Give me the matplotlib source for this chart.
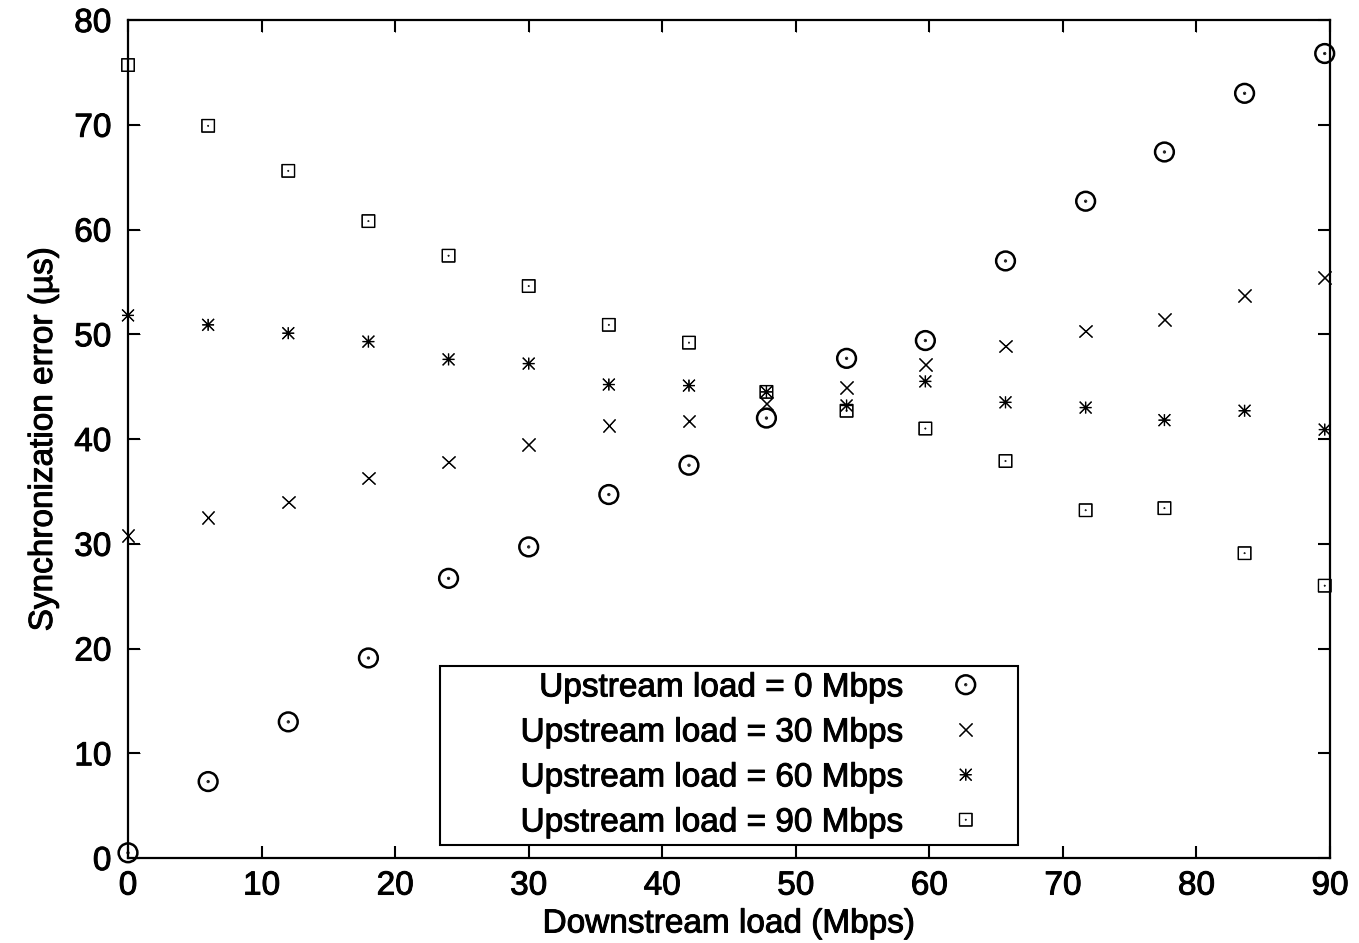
import numpy as np
import matplotlib.pyplot as plt
import matplotlib.patheffects as pe
from matplotlib.path import Path
from matplotlib.transforms import Affine2D

plt.rcParams['font.family'] = ['Liberation Sans', 'DejaVu Sans']
plt.rcParams['path.effects'] = [pe.withStroke(linewidth=0.7, foreground='black')]

# downstream load (Mbps)
x = [0, 6, 12, 18, 24, 30, 36, 42, 47.8, 53.8, 59.7, 65.7, 71.7, 77.6, 83.6, 89.6]

# synchronization error (us) for each upstream load
up0 = [0.5, 7.3, 13.0, 19.1, 26.7, 29.7, 34.7, 37.5, 42.0, 47.7, 49.4, 57.0, 62.7, 67.4, 73.0, 76.8]
up30 = [30.8, 32.5, 34.0, 36.3, 37.8, 39.5, 41.3, 41.7, 43.4, 44.9, 47.1, 48.9, 50.3, 51.4, 53.7, 55.4]
up60 = [51.8, 50.9, 50.1, 49.3, 47.6, 47.2, 45.2, 45.1, 44.5, 43.2, 45.5, 43.5, 43.0, 41.8, 42.7, 40.9]
up90 = [75.7, 69.9, 65.6, 60.8, 57.5, 54.6, 50.9, 49.2, 44.5, 42.7, 41.0, 37.9, 33.2, 33.4, 29.1, 26.0]

labels = ['Upstream load = 0 Mbps', 'Upstream load = 30 Mbps',
          'Upstream load = 60 Mbps', 'Upstream load = 90 Mbps']

# gnuplot-like point shapes
dot = Path.circle((0, 0), 0.04)
circ = Path.make_compound_path(Path.unit_circle(), dot)
sq = Path.make_compound_path(
    Path.unit_rectangle().transformed(Affine2D().translate(-0.5, -0.5).scale(2)), dot)
ast = Path([(-1, 0), (1, 0), (0, -1), (0, 1), (-1, -1), (1, 1), (-1, 1), (1, -1)],
           [Path.MOVETO, Path.LINETO] * 4)

fig = plt.figure(figsize=(13.59, 9.43), dpi=100)
ax = fig.add_axes([0.0942, 0.0901, 0.8845, 0.8887])

pad = ' ' * 8  # gnuplot keeps a wide gap left of the key text
ax.plot(x, up0, linestyle='none', marker=circ, ms=13.5, mfc='none', mec='black',
        mew=1.8, clip_on=False, label=pad + labels[0])
ax.plot(x, up30, linestyle='none', marker='x', ms=9, mec='black',
        mew=1.0, clip_on=False, label=pad + labels[1])
ax.plot(x, up60, linestyle='none', marker=ast, ms=8.5, mfc='none', mec='black',
        mew=1.0, clip_on=False, label=pad + labels[2])
ax.plot(x, up90, linestyle='none', marker=sq, ms=9, mfc='none', mec='black',
        mew=1.0, clip_on=False, label=pad + labels[3])

ax.set_xlim(0, 90)
ax.set_ylim(0, 80)
ax.set_xticks(np.arange(0, 91, 10))
ax.set_yticks(np.arange(0, 81, 10))
ax.tick_params(direction='in', length=8.6, width=1.5, labelsize=24,
               top=True, right=True, pad=9)
ax.tick_params(axis='y', pad=12)
for s in ax.spines.values():
    s.set_linewidth(1.6)

ax.set_xlabel('Downstream load (Mbps)', fontsize=24, labelpad=5)
ax.set_ylabel('Synchronization error (\u00b5s)', fontsize=24, labelpad=11)

leg = ax.legend(loc='lower center', bbox_to_anchor=(0.5, 0.0155), markerfirst=False,
                fontsize=24, frameon=True, fancybox=False, edgecolor='black',
                framealpha=1, borderaxespad=0, handlelength=2.75,
                labelspacing=0.42, borderpad=0.2, handletextpad=0.5)
leg.get_frame().set_linewidth(1.5)
leg.get_frame().set_path_effects([])

fig.savefig('out.png', dpi=100)
